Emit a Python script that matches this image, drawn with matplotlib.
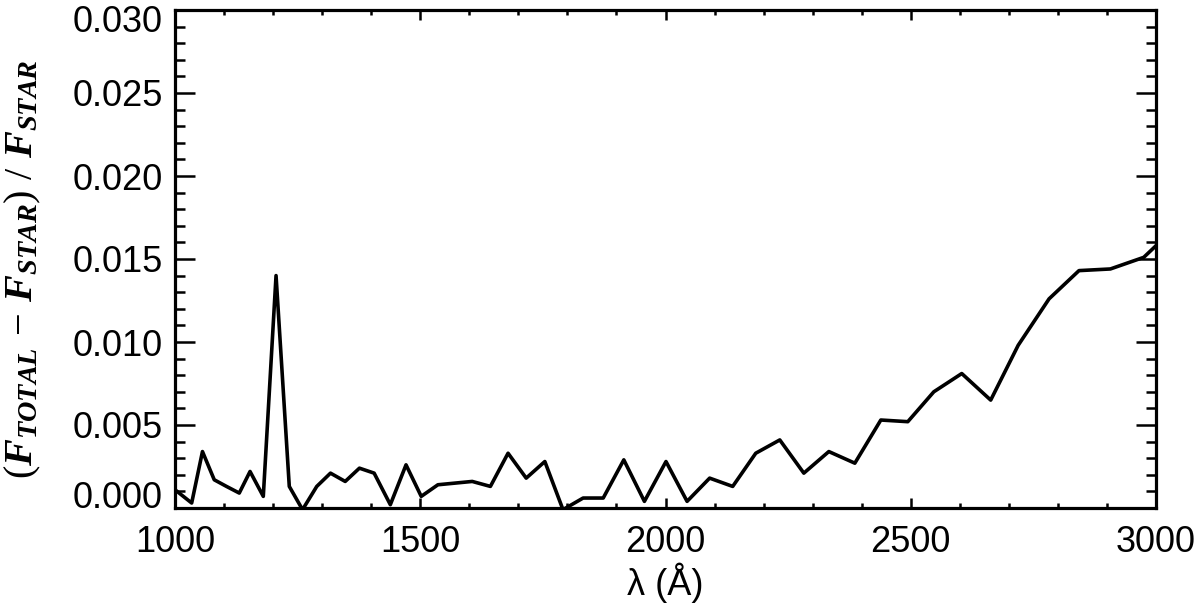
import matplotlib
matplotlib.use("Agg")
import matplotlib.pyplot as plt
from matplotlib.ticker import MultipleLocator
import matplotlib.transforms as mtransforms

wavelength = [1000, 1034, 1056, 1080, 1105, 1131, 1153, 1180, 1206, 1233,
              1260, 1289, 1317, 1347, 1376, 1406, 1439, 1471, 1502, 1536,
              1571, 1606, 1643, 1679, 1716, 1754, 1791, 1832, 1873, 1915,
              1957, 2001, 2044, 2090, 2137, 2184, 2233, 2282, 2333, 2386,
              2439, 2494, 2547, 2604, 2663, 2719, 2782, 2843, 2907, 2975,
              3000]
ratio = [0.0011, 0.0003, 0.0034, 0.0017, 0.0013, 0.0009, 0.0022, 0.0007, 0.0140, 0.0013,
         -0.0001, 0.0013, 0.0021, 0.0016, 0.0024, 0.0021, 0.0002, 0.0026, 0.0007, 0.0014,
         0.0015, 0.0016, 0.0013, 0.0033, 0.0018, 0.0028, -0.0001, 0.0006, 0.0006, 0.0029,
         0.0004, 0.0028, 0.0004, 0.0018, 0.0013, 0.0033, 0.0041, 0.0021, 0.0034, 0.0027,
         0.0053, 0.0052, 0.0070, 0.0081, 0.0065, 0.0098, 0.0126, 0.0143, 0.0144, 0.0151,
         0.0158]

xticks = [1000, 1500, 2000, 2500, 3000]
yticks = [0.000, 0.005, 0.010, 0.015, 0.020, 0.025, 0.030]
ytick_labels = ["0.000", "0.005", "0.010", "0.015", "0.020", "0.025", "0.030"]

plt.rcParams['mathtext.fontset'] = 'custom'
plt.rcParams['mathtext.rm'] = 'Liberation Serif'
plt.rcParams['mathtext.it'] = 'Liberation Serif:italic:bold'
plt.rcParams['mathtext.bf'] = 'Liberation Serif:bold'

fig = plt.figure(figsize=(12, 6.1), dpi=100)
ax = fig.add_axes([175/1200, 1 - 508/610, (1156 - 175)/1200, (508 - 10)/610])

ax.plot(wavelength, ratio, color='black', lw=2.6, clip_on=True)
ax.set_xlim(1000, 3000)
ax.set_ylim(0.0, 0.030)

ax.set_xticks(xticks)
ax.set_xticklabels([str(v) for v in xticks])
ax.set_yticks(yticks)
ax.set_yticklabels(ytick_labels)
ax.xaxis.set_minor_locator(MultipleLocator(100))
ax.yaxis.set_minor_locator(MultipleLocator(0.001))

for s in ax.spines.values():
    s.set_linewidth(2.3)

ax.tick_params(axis='x', which='major', direction='in', length=7.2, width=1.8,
               top=True, bottom=True, pad=12, labelsize=26)
ax.tick_params(axis='x', which='minor', direction='in', length=3.6, width=1.8,
               top=True, bottom=True)
ax.tick_params(axis='y', which='major', direction='in', length=14.4, width=1.8,
               left=True, right=True, pad=9, labelsize=26)
ax.tick_params(axis='y', which='minor', direction='in', length=7.2, width=1.8,
               left=True, right=True)
for lab in ax.get_xticklabels() + ax.get_yticklabels():
    lab.set_fontfamily('Liberation Sans')

# nudge the end y labels inward like the reference
ylabs = ax.get_yticklabels()
ylabs[-1].set_transform(ylabs[-1].get_transform() +
                        mtransforms.ScaledTranslation(0, -8/100, fig.dpi_scale_trans))
ylabs[0].set_transform(ylabs[0].get_transform() +
                       mtransforms.ScaledTranslation(0, 13/100, fig.dpi_scale_trans))

ax.set_xlabel("λ (Å)", fontsize=26, family='Liberation Sans', labelpad=2)
ax.set_ylabel(r"$(F_{TOTAL}\,-\,F_{STAR})\ /\ F_{STAR}$", fontsize=29, labelpad=14)
ax.yaxis.set_label_coords(-0.135, 0.48)

fig.savefig("out.png", dpi=100)
